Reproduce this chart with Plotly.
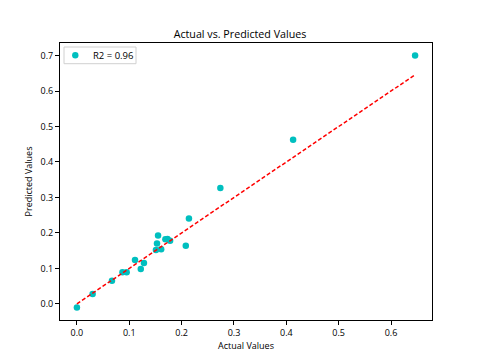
import plotly.graph_objects as go

# values
actual = [0.000, 0.030, 0.067, 0.087, 0.095, 0.111, 0.122, 0.128, 0.151, 0.153,
          0.155, 0.161, 0.169, 0.173, 0.178, 0.208, 0.214, 0.274, 0.413, 0.646]
predicted = [-0.010, 0.028, 0.065, 0.089, 0.089, 0.124, 0.098, 0.115, 0.152, 0.170,
             0.193, 0.154, 0.182, 0.183, 0.178, 0.164, 0.241, 0.327, 0.463, 0.700]
r2_label = "R2 = 0.96"
x_ticks = [0.0, 0.1, 0.2, 0.3, 0.4, 0.5, 0.6]
y_ticks = [0.0, 0.1, 0.2, 0.3, 0.4, 0.5, 0.6, 0.7]

font = "Open Sans"
dot_color = "#00bfbf"

W, H = 480, 360
L, R, T, B = 60, 48, 43, 40
pw, ph = W - L - R, H - T - B


def px(x):
    return (x - L) / pw


def py(y):
    return (H - B - y) / ph


# identity line from min to max of the actual values
lo, hi = min(actual), max(actual)

fig = go.Figure()
fig.add_trace(go.Scatter(
    x=actual, y=predicted, mode="markers", name=r2_label, showlegend=False,
    marker=dict(color=dot_color, size=6.5, line=dict(width=0)),
))
fig.add_trace(go.Scatter(
    x=[lo, hi], y=[lo, hi], mode="lines", showlegend=False,
    line=dict(color="red", width=1.5, dash="4px,2.2px"),
))

# matplotlib-like 5% margins
xpad = (hi - lo) * 0.05
ymin, ymax = min(predicted), max(predicted)
ypad = (ymax - ymin) * 0.05

axis_style = dict(
    showgrid=False, zeroline=False, showline=True, mirror=True, automargin=False,
    linecolor="black", linewidth=1, ticks="outside", ticklen=4,
    tickwidth=1, tickcolor="black", tickfont=dict(size=9, color="black"),
)
fig.update_xaxes(range=[lo - xpad, hi + xpad], tickvals=x_ticks,
                 ticktext=[f"{v:.1f}" for v in x_ticks],
                 title=dict(text="Actual Values", font=dict(size=9), standoff=0),
                 **axis_style)
fig.update_yaxes(range=[ymin - ypad, ymax + ypad], tickvals=y_ticks,
                 ticktext=[f"{v:.1f}" for v in y_ticks],
                 title=dict(text="Predicted Values", font=dict(size=9), standoff=6),
                 **axis_style)

# matplotlib-style legend box, drawn by hand
fig.add_shape(type="rect", xref="paper", yref="paper",
              x0=px(64), x1=px(136), y0=py(63.7), y1=py(47),
              line=dict(color="#d0d0d0", width=1), fillcolor="rgba(255,255,255,0.8)")
fig.add_shape(type="circle", xref="paper", yref="paper",
              x0=px(75.3 - 3.2), x1=px(75.3 + 3.2), y0=py(55.3 + 3.2), y1=py(55.3 - 3.2),
              line=dict(width=0), fillcolor=dot_color)
fig.add_annotation(text=r2_label, xref="paper", yref="paper", x=px(90.5), y=py(55.3),
                   xanchor="left", yanchor="middle", showarrow=False,
                   font=dict(size=9.5))

fig.update_layout(
    width=W, height=H, autosize=False,
    margin=dict(l=L, r=R, t=T, b=B),
    plot_bgcolor="white", paper_bgcolor="white",
    font=dict(family=font, color="black"),
    title=dict(text="Actual vs. Predicted Values", x=0.5, xanchor="center",
               y=1 - 34.3 / H, yanchor="middle", font=dict(size=10.7)),
)

fig.write_html("out.html", config={"displayModeBar": False},
               post_script="document.body.style.margin='0';")
